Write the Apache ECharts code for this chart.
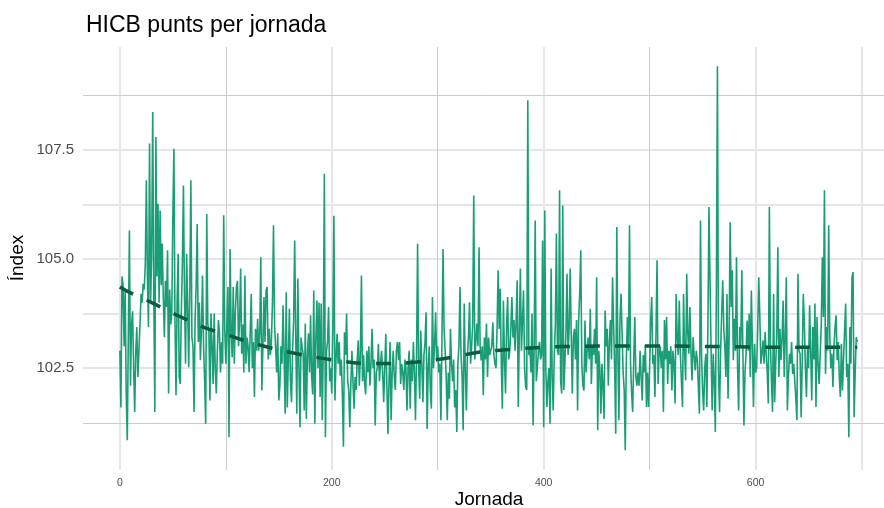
<!DOCTYPE html>
<html>
<head>
<meta charset="utf-8">
<script src="https://cdn.jsdelivr.net/npm/echarts@6/dist/echarts.min.js"></script>
<style>
  html, body { margin: 0; padding: 0; background: #ffffff; }
  #chart { width: 884px; height: 508px; }
</style>
</head>
<body>
<div id="chart"></div>
<script>
// Daily HICB index value, one entry per jornada (starting at 0)
const hicb = [
  102.9, 101.6, 104.6, 104.4, 103.0, 104.3, 101.9, 100.85, 103.3, 105.65,
  102.1, 103.5, 103.8, 102.5, 101.5, 102.9, 103.44, 102.3, 102.9, 103.5,
  104.2, 104.0, 104.43, 104.3, 104.9, 106.8, 104.6, 103.44, 107.64, 104.0,
  105.1, 108.36, 104.2, 101.5, 107.79, 104.6, 106.26, 104.0, 106.11, 104.4,
  105.35, 104.1, 103.21, 104.5, 103.9, 105.2, 101.92, 104.3, 103.5, 103.75,
  106.0, 107.52, 103.6, 101.88, 104.0, 105.12, 102.3, 102.14, 103.8, 104.9,
  106.68, 104.1, 102.6, 105.12, 103.9, 102.52, 104.3, 106.8, 103.2, 103.0,
  101.5, 103.6, 104.4, 105.8, 103.1, 104.0, 102.68, 103.4, 104.62, 103.0,
  102.2, 101.23, 106.03, 103.5, 103.36, 101.76, 103.75, 103.0, 102.14, 103.75,
  102.5, 101.92, 102.9, 103.6, 103.29, 102.4, 103.1, 102.6, 106.0, 103.4,
  102.6, 103.5, 104.36, 100.92, 105.23, 103.4, 102.75, 104.36, 102.6, 103.8,
  104.36, 104.5, 103.0, 103.6, 104.78, 102.83, 103.5, 102.4, 104.62, 102.6,
  103.2, 103.0, 102.41, 103.3, 104.2, 102.5, 103.1, 101.84, 103.4, 102.9,
  103.63, 102.9, 103.3, 105.04, 101.99, 103.0, 104.13, 103.1, 104.28, 104.36,
  102.7, 103.4, 102.8, 103.1, 104.0, 105.77, 103.5, 102.98, 102.4, 103.3,
  101.76, 102.1, 103.0, 102.6, 103.94, 102.8, 101.46, 104.24, 101.6, 102.7,
  103.86, 102.2, 101.72, 102.9, 103.6, 105.42, 103.2, 101.46, 104.55, 102.5,
  101.15, 103.2, 102.98, 102.83, 101.53, 103.52, 101.34, 102.8, 103.3, 102.4,
  103.71, 102.3, 101.9, 104.28, 101.23, 103.2, 104.05, 102.5, 104.0, 101.84,
  103.98, 101.31, 103.0, 106.95, 100.92, 102.9, 103.1, 103.9, 102.2, 102.5,
  101.92, 103.4, 105.99, 101.76, 102.7, 103.29, 102.6, 103.1, 102.33, 102.7,
  101.9, 100.7, 103.32, 102.8, 103.75, 102.2, 102.0, 101.15, 102.14, 102.9,
  102.2, 101.57, 102.3, 102.0, 102.7, 103.14, 102.1, 102.8, 104.62, 102.2,
  102.8, 102.14, 101.9, 102.9, 102.4, 103.0, 102.1, 102.6, 103.4, 102.5,
  102.7, 101.19, 102.4, 102.5, 103.06, 102.2, 102.6, 102.9, 102.4, 101.72,
  102.5, 103.29, 102.1, 100.99, 102.2, 103.1, 101.31, 102.4, 102.9, 102.3,
  102.0, 102.9, 103.1, 102.68, 103.1, 102.14, 102.6, 102.4, 102.0, 102.7,
  102.5, 101.53, 102.5, 102.9, 101.57, 102.7, 102.2, 103.1, 102.4, 101.31,
  102.8, 105.35, 102.5, 101.8, 103.36, 102.6, 101.72, 102.8, 103.1, 103.78,
  101.11, 102.5, 103.0, 102.0, 101.57, 104.13, 102.5, 103.0, 103.78, 102.7,
  103.0, 102.4, 102.6, 101.31, 103.2, 105.23, 103.4, 102.9, 102.3, 101.31,
  102.4, 101.8, 103.4, 102.6, 102.2, 102.7, 101.6, 102.0, 101.04, 102.6,
  103.0, 104.36, 102.8, 102.3, 101.08, 103.98, 102.5, 101.53, 102.8, 103.2,
  104.01, 102.6, 103.0, 103.5, 106.45, 102.7, 102.68, 103.52, 103.0, 105.27,
  103.0, 102.68, 103.0, 101.88, 103.2, 102.7, 103.52, 102.3, 103.2, 102.8,
  102.83, 103.0, 103.55, 102.8, 102.6, 102.5, 103.4, 104.74, 103.4, 104.32,
  102.6, 101.57, 104.05, 102.7, 101.92, 103.5, 104.13, 102.7, 102.9, 103.4,
  104.13, 103.2, 103.6, 102.9, 103.6, 104.51, 101.61, 103.3, 104.78, 102.9,
  102.9, 104.28, 102.5, 102.07, 102.0, 108.63, 102.8, 103.0, 102.4, 103.75,
  101.19, 103.0, 105.88, 102.2, 102.5, 102.9, 103.1, 102.7, 102.8, 105.42,
  101.15, 106.11, 102.5, 101.61, 102.2, 102.5, 101.23, 104.78, 102.3, 101.53,
  102.8, 103.5, 105.58, 102.9, 102.8, 106.57, 102.2, 101.92, 106.22, 102.0,
  102.6, 103.3, 104.66, 102.8, 103.4, 104.78, 103.3, 101.92, 103.2, 103.4,
  102.7, 103.6, 101.53, 103.6, 104.2, 105.2, 102.6, 102.1, 101.99, 103.59,
  102.4, 102.9, 103.2, 102.7, 103.86, 102.14, 103.0, 102.8, 103.4, 102.6,
  104.58, 101.08, 102.9, 102.5, 101.46, 102.6, 102.1, 101.34, 103.82, 103.0,
  103.4, 102.1, 103.1, 103.6, 102.7, 104.58, 103.5, 102.5, 101.0, 105.73,
  102.8, 101.31, 103.6, 104.2, 104.2, 102.4, 102.0, 100.62, 102.7, 103.67,
  102.9, 105.77, 102.6, 101.92, 101.5, 102.7, 103.67, 102.3, 102.1, 102.4,
  102.1, 102.9, 102.3, 101.76, 102.8, 102.4, 103.02, 101.61, 102.4, 101.61,
  102.5, 103.59, 104.13, 102.6, 102.8, 101.84, 103.3, 104.97, 102.14, 102.9,
  103.0, 102.5, 102.9, 101.5, 103.6, 102.7, 103.67, 102.14, 102.9, 102.6,
  103.0, 101.99, 102.9, 102.6, 101.69, 104.2, 103.2, 102.8, 104.05, 102.83,
  102.2, 101.61, 104.2, 102.9, 102.22, 104.66, 103.3, 102.83, 103.9, 102.9,
  102.22, 103.21, 102.8, 102.45, 102.9, 102.68, 102.68, 101.46, 105.88, 102.8,
  101.99, 101.53, 102.5, 102.83, 101.61, 103.5, 106.19, 104.51, 102.9, 101.53,
  102.83, 102.2, 101.04, 104.36, 109.41, 102.4, 101.5, 102.9, 103.75, 104.51,
  103.4, 102.98, 102.3, 104.2, 101.8, 103.2, 105.84, 103.9, 104.74, 102.68,
  103.63, 102.9, 105.04, 102.5, 101.53, 103.44, 103.0, 104.74, 102.9, 101.19,
  102.4, 102.83, 103.59, 102.9, 103.75, 102.3, 104.28, 103.0, 101.61, 103.06,
  102.4, 102.52, 103.4, 104.58, 103.67, 102.6, 102.83, 103.14, 102.6, 103.33,
  102.83, 102.4, 101.69, 106.19, 103.06, 102.2, 101.5, 104.2, 101.72, 102.6,
  103.29, 105.27, 102.3, 103.4, 102.68, 103.2, 104.05, 102.3, 103.2, 104.58,
  101.53, 102.3, 102.83, 102.6, 103.1, 102.37, 102.6, 102.2, 101.8, 101.31,
  104.66, 102.9, 102.83, 101.38, 102.6, 104.2, 103.59, 102.5, 101.84, 102.98,
  102.5, 103.94, 102.9, 101.76, 103.44, 102.7, 103.98, 101.61, 103.67, 102.6,
  102.14, 102.83, 103.5, 105.04, 103.67, 106.57, 102.37, 103.44, 102.9, 105.77,
  103.29, 102.5, 102.83, 102.07, 103.0, 103.44, 103.71, 102.68, 103.1, 102.3,
  101.84, 103.06, 101.99, 102.7, 103.36, 103.98, 102.3, 102.6, 100.92, 103.44,
  102.6, 104.58, 104.7, 101.38, 102.4, 103.21, 103.1
];

// Smoothed trend of the index (jornada, value)
const trendDays   = [0, 12, 30, 55, 80, 100, 115, 140, 165, 190, 210, 230, 255, 280, 300, 320, 340, 370, 400, 430, 460, 500, 540, 580, 620, 660, 696];
const trendValues = [104.36, 104.2, 104.0, 103.7, 103.43, 103.28, 103.15, 102.98, 102.84, 102.73, 102.66, 102.61, 102.61, 102.64, 102.7, 102.78, 102.87, 102.93, 102.98, 103.0, 103.01, 103.01, 103.0, 102.99, 102.98, 102.98, 102.98];

// Axis breaks
const xLabelTicks = [0, 200, 400, 600];
const xSoftGrid   = [0, 200, 400, 600, 700];
const xCrispGrid  = [100, 300, 500];
const yLabelTicks = [102.5, 105.0, 107.5];
const ySoftGrid   = [102.5, 103.75, 105.0, 106.25, 107.5];
const yCrispGrid  = [101.25, 108.75];

const FONT = '"Liberation Sans", Arial, Helvetica, sans-serif';
const SOFT_GRID = { color: '#e6e6e6', width: 2, type: 'solid' };
const CRISP_GRID = { color: '#cbcbcb', width: 1, type: 'solid' };

const chart = echarts.init(document.getElementById('chart'), null, { renderer: 'canvas' });

const gridLines = [];
xSoftGrid.forEach(v => gridLines.push({ xAxis: v, lineStyle: SOFT_GRID }));
ySoftGrid.forEach(v => gridLines.push({ yAxis: v, lineStyle: SOFT_GRID }));
xCrispGrid.forEach(v => gridLines.push({ xAxis: v, lineStyle: CRISP_GRID }));
yCrispGrid.forEach(v => gridLines.push({ yAxis: v, lineStyle: CRISP_GRID }));

chart.setOption({
  animation: false,
  backgroundColor: '#ffffff',
  title: {
    text: 'HICB punts per jornada',
    left: 81,
    top: 9,
    textStyle: { fontFamily: FONT, fontSize: 23, fontWeight: 'normal', color: '#000000' }
  },
  grid: { left: 83, right: 0, top: 47, bottom: 38, containLabel: false },
  xAxis: {
    type: 'value',
    min: -34.8,
    max: 721.2,
    axisLine: { show: false },
    axisTick: { show: false },
    splitLine: { show: false },
    axisLabel: {
      customValues: xLabelTicks,
      margin: 8,
      fontFamily: FONT,
      fontSize: 10.5,
      color: '#4d4d4d',
      showMinLabel: true,
      showMaxLabel: true
    }
  },
  yAxis: {
    type: 'value',
    min: 100.17,
    max: 109.85,
    axisLine: { show: false },
    axisTick: { show: false },
    splitLine: { show: false },
    axisLabel: {
      customValues: yLabelTicks,
      margin: 9,
      fontFamily: FONT,
      fontSize: 15,
      color: '#4d4d4d',
      formatter: v => v.toFixed(1)
    }
  },
  graphic: [
    {
      type: 'text',
      x: 489, y: 500,
      style: { text: 'Jornada', font: '19px ' + FONT, fill: '#000000', textAlign: 'center', textVerticalAlign: 'middle' }
    },
    {
      type: 'text',
      x: 18, y: 258,
      rotation: Math.PI / 2,
      style: { text: 'Índex', font: '19px ' + FONT, fill: '#000000', textAlign: 'center', textVerticalAlign: 'middle' }
    }
  ],
  series: [
    {
      name: 'grid',
      type: 'line',
      data: [],
      z: 0,
      silent: true,
      markLine: {
        z: 0,
        silent: true,
        symbol: 'none',
        label: { show: false },
        animation: false,
        data: gridLines
      }
    },
    {
      name: 'HICB',
      type: 'line',
      data: hicb.map((v, i) => [i, v]),
      showSymbol: false,
      z: 3,
      lineStyle: { color: '#1b9e77', width: 1.6 },
      itemStyle: { color: '#1b9e77' }
    },
    {
      name: 'tendència',
      type: 'line',
      data: trendDays.map((d, i) => [d, trendValues[i]]),
      smooth: 0.5,
      showSymbol: false,
      z: 6,
      lineStyle: { color: '#0b5b3f', width: 3.5, type: [15, 15] }
    }
  ]
});
</script>
</body>
</html>
